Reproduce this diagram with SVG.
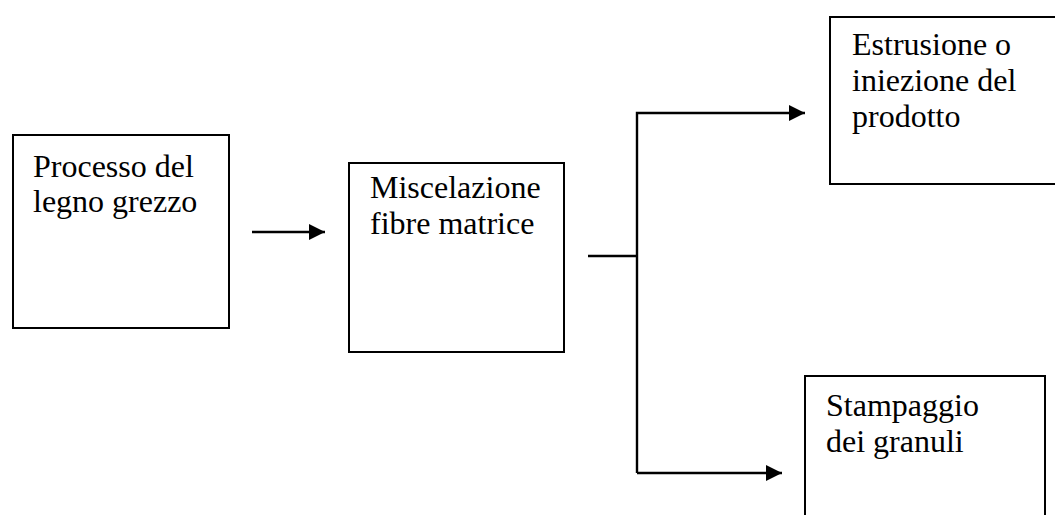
<svg xmlns="http://www.w3.org/2000/svg" width="1055" height="515" viewBox="0 0 1055 515">
  <style>
    .box { fill: #fff; stroke: #000; stroke-width: 2; }
    .lbl { font-family: "Liberation Serif", "Times New Roman", serif; font-size: 32px; fill: #000; }
    .conn { fill: none; stroke: #000; stroke-width: 2.4; }
  </style>
  <defs>
    <marker id="head" viewBox="0 0 16 16" refX="16" refY="8" markerWidth="16" markerHeight="16" markerUnits="userSpaceOnUse" orient="auto">
      <path d="M0,0 L16,8 L0,16 Z" fill="#000"/>
    </marker>
  </defs>
  <rect width="1055" height="515" fill="#fff"/>

  <g id="n-processo">
    <rect class="box" x="13" y="135" width="216" height="193"/>
    <text class="lbl" x="33" y="176.5">Processo del</text>
    <text class="lbl" x="33" y="212">legno grezzo</text>
  </g>

  <g id="n-miscelazione">
    <rect class="box" x="349" y="163" width="215" height="189"/>
    <text class="lbl" x="370" y="198">Miscelazione</text>
    <text class="lbl" x="370" y="233.5">fibre matrice</text>
  </g>

  <g id="n-estrusione">
    <rect class="box" x="830" y="17" width="240" height="167"/>
    <text class="lbl" x="852" y="55">Estrusione o</text>
    <text class="lbl" x="852" y="91">iniezione del</text>
    <text class="lbl" x="852" y="126.5">prodotto</text>
  </g>

  <g id="n-stampaggio">
    <rect class="box" x="805" y="376" width="240" height="160"/>
    <text class="lbl" x="826" y="416">Stampaggio</text>
    <text class="lbl" x="826" y="451.5">dei granuli</text>
  </g>

  <g id="connectors">
    <line class="conn" x1="252" y1="232" x2="325" y2="232" marker-end="url(#head)"/>
    <line class="conn" x1="588" y1="256" x2="637" y2="256"/>
    <path class="conn" d="M637,473 L637,113 L805,113" marker-end="url(#head)"/>
    <line class="conn" x1="637" y1="473" x2="782" y2="473" marker-end="url(#head)"/>
  </g>
</svg>
